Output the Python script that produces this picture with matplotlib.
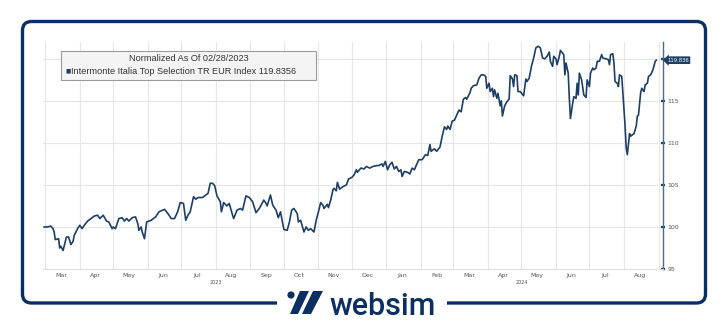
import matplotlib.pyplot as plt
import matplotlib.dates as mdates
from matplotlib.patches import FancyBboxPatch, Rectangle, Circle, Polygon
import numpy as np
import pandas as pd

# index normalised to 100 on 28/02/2023
dates = [
    "2023-02-28", "2023-03-03", "2023-03-06", "2023-03-08", "2023-03-09", "2023-03-10",
    "2023-03-13", "2023-03-14", "2023-03-15", "2023-03-17", "2023-03-19", "2023-03-20",
    "2023-03-22", "2023-03-24", "2023-03-26", "2023-03-27", "2023-03-30", "2023-04-01",
    "2023-04-03", "2023-04-05", "2023-04-08", "2023-04-11", "2023-04-14", "2023-04-17",
    "2023-04-19", "2023-04-22", "2023-04-25", "2023-04-27", "2023-04-30", "2023-05-01",
    "2023-05-03", "2023-05-06", "2023-05-09", "2023-05-11", "2023-05-13", "2023-05-15",
    "2023-05-18", "2023-05-21", "2023-05-23", "2023-05-24", "2023-05-26", "2023-05-27",
    "2023-05-29", "2023-05-31", "2023-06-04", "2023-06-08", "2023-06-11", "2023-06-16",
    "2023-06-19", "2023-06-22", "2023-06-25", "2023-06-28", "2023-06-30", "2023-07-03",
    "2023-07-05", "2023-07-07", "2023-07-09", "2023-07-12", "2023-07-14", "2023-07-16",
    "2023-07-20", "2023-07-23", "2023-07-25", "2023-07-27", "2023-07-29", "2023-07-31",
    "2023-08-02", "2023-08-05", "2023-08-06", "2023-08-08", "2023-08-11", "2023-08-13",
    "2023-08-16", "2023-08-17", "2023-08-20", "2023-08-23", "2023-08-25", "2023-08-28",
    "2023-08-31", "2023-09-03", "2023-09-06", "2023-09-09", "2023-09-11", "2023-09-13",
    "2023-09-15", "2023-09-16", "2023-09-19", "2023-09-21", "2023-09-24", "2023-09-26",
    "2023-09-28", "2023-10-01", "2023-10-04", "2023-10-06", "2023-10-08", "2023-10-10",
    "2023-10-13", "2023-10-14", "2023-10-16", "2023-10-19", "2023-10-21", "2023-10-23",
    "2023-10-25", "2023-10-28", "2023-10-30", "2023-11-01", "2023-11-03", "2023-11-05",
    "2023-11-06", "2023-11-09", "2023-11-10", "2023-11-12", "2023-11-14", "2023-11-15",
    "2023-11-17", "2023-11-18", "2023-11-20", "2023-11-23", "2023-11-26", "2023-11-28",
    "2023-12-01", "2023-12-03", "2023-12-05", "2023-12-06", "2023-12-09", "2023-12-12",
    "2023-12-14", "2023-12-17", "2023-12-20", "2023-12-23", "2023-12-25", "2023-12-28",
    "2023-12-29", "2023-12-31", "2024-01-02", "2024-01-04", "2024-01-06", "2024-01-08",
    "2024-01-10", "2024-01-12", "2024-01-14", "2024-01-15", "2024-01-17", "2024-01-20",
    "2024-01-22", "2024-01-24", "2024-01-26", "2024-01-28", "2024-01-30", "2024-02-02",
    "2024-02-05", "2024-02-07", "2024-02-09", "2024-02-10", "2024-02-13", "2024-02-15",
    "2024-02-18", "2024-02-20", "2024-02-22", "2024-02-24", "2024-02-25", "2024-02-27",
    "2024-02-29", "2024-03-02", "2024-03-04", "2024-03-06", "2024-03-08", "2024-03-10",
    "2024-03-12", "2024-03-13", "2024-03-16", "2024-03-17", "2024-03-19", "2024-03-22",
    "2024-03-24", "2024-03-26", "2024-03-28", "2024-03-30", "2024-03-31", "2024-04-02",
    "2024-04-03", "2024-04-05", "2024-04-06", "2024-04-07", "2024-04-09", "2024-04-10",
    "2024-04-12", "2024-04-13", "2024-04-14", "2024-04-16", "2024-04-18", "2024-04-20",
    "2024-04-21", "2024-04-23", "2024-04-24", "2024-04-25", "2024-04-27", "2024-04-28",
    "2024-04-30", "2024-05-03", "2024-05-05", "2024-05-06", "2024-05-08", "2024-05-10",
    "2024-05-12", "2024-05-14", "2024-05-16", "2024-05-18", "2024-05-20", "2024-05-22",
    "2024-05-24", "2024-05-26", "2024-05-27", "2024-05-29", "2024-05-30", "2024-06-01",
    "2024-06-02", "2024-06-04", "2024-06-05", "2024-06-08", "2024-06-09", "2024-06-10",
    "2024-06-12", "2024-06-13", "2024-06-14", "2024-06-16", "2024-06-17", "2024-06-19",
    "2024-06-20", "2024-06-21", "2024-06-22", "2024-06-24", "2024-06-26", "2024-06-28",
    "2024-06-29", "2024-07-01", "2024-07-02", "2024-07-04", "2024-07-05", "2024-07-07",
    "2024-07-08", "2024-07-10", "2024-07-12", "2024-07-13", "2024-07-16", "2024-07-18",
    "2024-07-19", "2024-07-20", "2024-07-22", "2024-07-23", "2024-07-24", "2024-07-26",
    "2024-07-27", "2024-07-28", "2024-07-30", "2024-07-31", "2024-08-02", "2024-08-03",
    "2024-08-04", "2024-08-06", "2024-08-07", "2024-08-10", "2024-08-12", "2024-08-13",
    "2024-08-14", "2024-08-16", "2024-08-17", "2024-08-19", "2024-08-20", "2024-08-22",
    "2024-08-23", "2024-08-25", "2024-08-27", "2024-08-29", "2024-08-30",
]
values = [
    100.0, 100.0, 100.1, 99.8, 99.4, 98.5,
    98.6, 97.5, 97.7, 97.2, 98.3, 98.8,
    98.8, 97.9, 98.3, 99.0, 99.8, 100.2,
    99.8, 100.2, 100.7, 101.0, 101.3, 101.4,
    101.0, 101.4, 100.7, 100.6, 99.8, 100.0,
    99.8, 101.0, 101.1, 100.7, 101.0, 100.7,
    101.1, 101.2, 100.4, 99.6, 100.0, 99.4,
    98.6, 100.6, 100.8, 101.2, 101.8, 102.1,
    101.6, 101.0, 101.0, 101.9, 102.9, 102.8,
    100.8, 101.4, 101.8, 103.6, 103.3, 103.5,
    103.5, 103.8, 104.0, 105.2, 105.2, 104.9,
    103.7, 103.0, 101.8, 102.9, 102.5, 102.8,
    101.4, 101.0, 102.0, 102.2, 102.0, 103.7,
    103.5, 103.0, 101.7, 102.2, 102.7, 103.2,
    102.8, 102.5, 103.8, 102.6, 102.0, 101.1,
    101.8, 99.7, 99.6, 100.6, 102.0, 102.2,
    101.6, 100.6, 100.8, 99.4, 100.0, 99.6,
    99.8, 99.4, 100.8, 101.8, 102.9, 102.6,
    102.2, 102.7, 102.3, 103.2, 104.4, 104.6,
    104.3, 105.3, 104.5, 104.8, 105.0, 105.7,
    105.9, 106.2, 106.8, 106.5, 107.0, 106.9,
    107.2, 107.0, 107.2, 107.3, 107.3, 107.5,
    107.2, 107.8, 106.8, 107.4, 107.7, 106.9,
    107.2, 106.6, 106.8, 106.0, 106.6, 106.5,
    106.3, 107.0, 106.8, 107.4, 108.0, 108.0,
    108.6, 108.5, 109.8, 109.0, 109.3, 109.0,
    109.5, 110.8, 111.9, 111.6, 112.0, 111.6,
    112.6, 112.7, 113.3, 113.9, 113.7, 115.2,
    115.4, 115.2, 116.0, 116.5, 116.8, 116.9,
    117.7, 118.1, 118.1, 117.9, 116.5, 117.1,
    116.1, 116.5, 115.5, 116.3, 115.3, 115.9,
    114.4, 115.0, 113.2, 114.4, 114.9, 115.2,
    118.0, 117.6, 116.7, 118.1, 118.0, 116.1,
    116.1, 115.6, 117.6, 117.3, 117.7, 119.1,
    120.1, 121.3, 121.5, 121.3, 120.1, 120.0,
    120.3, 120.8, 119.7, 119.1, 120.3, 120.0,
    119.3, 120.3, 121.0, 120.5, 118.1, 119.5,
    118.3, 115.3, 112.9, 114.7, 115.5, 115.3,
    117.1, 115.7, 118.3, 117.5, 115.7, 115.4,
    117.5, 116.7, 118.3, 118.9, 118.7, 118.9,
    119.7, 119.7, 120.5, 120.1, 120.0, 119.9,
    119.3, 120.5, 120.6, 119.5, 117.3, 117.1,
    116.7, 118.1, 117.9, 116.0, 112.0, 109.4,
    108.6, 111.1, 110.8, 111.1, 112.0, 113.2,
    113.3, 116.0, 116.5, 116.1, 116.9, 117.1,
    117.9, 118.1, 118.7, 119.7, 119.8356,
]

legend_title = "Normalized As Of 02/28/2023"
series_name = "Intermonte Italia Top Selection TR EUR Index"
last_value = 119.8356
y_ticks = [95, 100, 105, 110, 115, 120]
year_labels = [("2023", "2023-08-01"), ("2024", "2024-05-01")]

navy = "#0b2f63"
line_col = "#1d3f66"
grid_col = "#e6e6e6"
tick_col = "#555555"

W, H = 727, 325
fig = plt.figure(figsize=(W / 100, H / 100), dpi=100)
fig.patch.set_facecolor("white")

# frame + logo layer in pixel coords
deco = fig.add_axes([0, 0, 1, 1], label="deco")
deco.set_xlim(0, W)
deco.set_ylim(H, 0)
deco.axis("off")
deco.set_zorder(0)
deco.add_patch(FancyBboxPatch((22.5, 21.5), 683, 281.5,
                              boxstyle="round,pad=0,rounding_size=9",
                              fill=False, ec=navy, lw=2.4))
deco.add_patch(Rectangle((277, 296), 170, 14, fc="white", ec="none", zorder=3))
deco.add_patch(Circle((291, 295), 3.6, fc=navy, ec="none", zorder=4))
deco.add_patch(Polygon([(300, 291), (309, 291), (298, 314), (290, 314)],
                       closed=True, fc=navy, ec="none", zorder=4))
deco.add_patch(Polygon([(313, 291), (323, 291), (311, 314), (302, 314)],
                       closed=True, fc=navy, ec="none", zorder=4))
deco.text(330, 315, "websim", fontsize=22, family="Roboto", weight="medium",
          color=navy, ha="left", va="baseline", zorder=4)

# chart
ax = fig.add_axes([43 / W, 1 - 269 / H, (663 - 43) / W, (269 - 42) / H])
ax.set_zorder(1)
ax.patch.set_alpha(0)

x = pd.to_datetime(dates)
ax.plot(x, values, color=line_col, lw=1.2, solid_joinstyle="round", zorder=3)

ax.set_xlim(pd.Timestamp("2023-02-27"), pd.Timestamp("2024-09-05"))
ax.set_ylim(95, 122)

ax.yaxis.tick_right()
ax.set_yticks(y_ticks)
# the 120 label sits under the last-value tag
ax.set_yticklabels(["" if t == 120 else str(t) for t in y_ticks])
ax.tick_params(axis="y", which="major", direction="inout", length=2.5, width=1.6,
               color=line_col, labelsize=4.5, labelcolor=tick_col, pad=2)

ax.xaxis.set_major_locator(mdates.MonthLocator())
ax.xaxis.set_major_formatter(plt.NullFormatter())
ax.xaxis.set_minor_locator(mdates.MonthLocator(bymonthday=15))
ax.xaxis.set_minor_formatter(mdates.DateFormatter("%b"))
ax.tick_params(axis="x", which="both", length=0, labelsize=4.5,
               labelcolor=tick_col, pad=3)

ax.grid(True, which="major", color=grid_col, lw=0.8, zorder=0)

for s in ["left", "top"]:
    ax.spines[s].set_visible(False)
ax.spines["bottom"].set_color("#dddddd")
ax.spines["bottom"].set_linewidth(0.8)
ax.spines["right"].set_color("#4a6a8f")
ax.spines["right"].set_linewidth(1.0)

for lab, d in year_labels:
    ax.text(pd.Timestamp(d), -0.05, lab, transform=ax.get_xaxis_transform(),
            fontsize=3.5, color=tick_col, ha="center", va="top")

# last value tag on the right axis
ax.annotate(f"{last_value:.3f}", xy=(1.0, last_value), xycoords=("axes fraction", "data"),
            xytext=(3, 0), textcoords="offset points", fontsize=3.8, color="white",
            ha="left", va="center",
            bbox=dict(boxstyle="larrow,pad=0.25", fc=line_col, ec="none"),
            annotation_clip=False)

# legend box on its own layer above the chart
top = fig.add_axes([0, 0, 1, 1], label="legend")
top.set_xlim(0, W)
top.set_ylim(H, 0)
top.axis("off")
top.set_zorder(2)
box_x0, box_y0 = 61, 51
top.add_patch(Rectangle((box_x0, box_y0), 255, 29, fc="#f4f4f4", ec="#9a9a9a", lw=0.8))
top.text(box_x0 + 127.5, 58.5, legend_title, fontsize=6.6, family="Liberation Sans",
         color="#333333", ha="center", va="center")
top.text(box_x0 + 5, 71, "\u25a0", fontsize=4, color=line_col, ha="left", va="center")
top.text(box_x0 + 10, 71, f"{series_name} {last_value}", fontsize=6.6,
         family="Liberation Sans", color="#333333", ha="left", va="center")

fig.savefig("out.png", dpi=100, facecolor="white")
